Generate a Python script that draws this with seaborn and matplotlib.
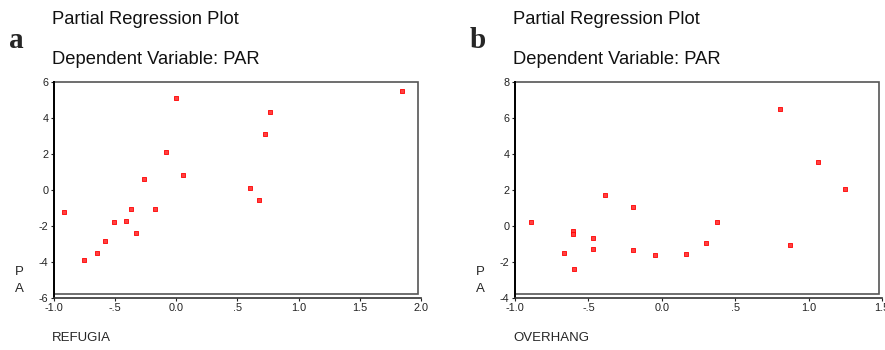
import matplotlib
matplotlib.use("Agg")
import matplotlib.pyplot as plt
from matplotlib.patches import Rectangle
import seaborn as sns
import pandas as pd

# panel a: REFUGIA
refugia_x = [-0.919, -0.753, -0.649, -0.581, -0.510, -0.412, -0.371, -0.327, -0.267,
             -0.175, -0.085, -0.005, 0.052, 0.603, 0.676, 0.728, 0.766, 1.843]
refugia_y = [-1.24, -3.93, -3.52, -2.85, -1.81, -1.76, -1.06, -2.39, 0.59,
             -1.06, 2.11, 5.06, 0.83, 0.06, -0.56, 3.06, 4.30, 5.46]

# panel b: OVERHANG
overhang_x = [-0.889, -0.666, -0.602, -0.602, -0.595, -0.468, -0.468, -0.389, -0.193,
              -0.193, -0.043, 0.164, 0.302, 0.377, 0.805, 0.875, 1.066, 1.248]
overhang_y = [0.22, -1.55, -0.33, -0.46, -2.39, -0.70, -1.33, 1.68, 1.01,
              -1.36, -1.64, -1.57, -0.96, 0.22, 6.48, -1.07, 3.55, 2.03]

xticks_a = [-1.0, -0.5, 0.0, 0.5, 1.0, 1.5, 2.0]
xlabels_a = ["-1.0", "-.5", "0.0", ".5", "1.0", "1.5", "2.0"]
yticks_a = [-6, -4, -2, 0, 2, 4, 6]

xticks_b = [-1.0, -0.5, 0.0, 0.5, 1.0, 1.5]
xlabels_b = ["-1.0", "-.5", "0.0", ".5", "1.0", "1.5"]
yticks_b = [-4, -2, 0, 2, 4, 6, 8]

sns.set_style("white")
plt.rcParams['font.family'] = ['Liberation Sans', 'DejaVu Sans']

fig = plt.figure(figsize=(8.85, 3.5), dpi=100)

panels = [
    dict(left=54, x=refugia_x, y=refugia_y, xt=xticks_a, xl=xlabels_a, yt=yticks_a,
         xlim=(-1.0, 2.0), ylim=(-6, 6), name="REFUGIA", letter="a"),
    dict(left=515, x=overhang_x, y=overhang_y, xt=xticks_b, xl=xlabels_b, yt=yticks_b,
         xlim=(-1.0, 1.5), ylim=(-4, 8), name="OVERHANG", letter="b"),
]

for p in panels:
    ax = fig.add_axes([p["left"] / 885, (350 - 297.5) / 350, 367 / 885, 216 / 350])
    df = pd.DataFrame({"x": p["x"], "y": p["y"]})
    sns.scatterplot(data=df, x="x", y="y", marker="s", s=5, color="#ff4040",
                    edgecolor="red", linewidth=0.6, ax=ax)
    ax.set_xlim(*p["xlim"])
    ax.set_ylim(*p["ylim"])
    ax.set_xticks(p["xt"])
    ax.set_xticklabels(p["xl"])
    ax.set_yticks(p["yt"])
    ax.set_yticklabels([str(v) for v in p["yt"]])
    ax.tick_params(axis="both", labelsize=7.8, length=2.5, width=0.8, direction="out",
                   colors="#222222", pad=1.5)
    ax.tick_params(left=True, bottom=True)
    ax.set_xlabel("")
    ax.set_ylabel("")
    ax.spines["top"].set_visible(False)
    ax.spines["right"].set_visible(False)
    ax.spines["left"].set_color("black")
    ax.spines["left"].set_linewidth(1.4)
    ax.spines["bottom"].set_color("#333333")
    ax.spines["bottom"].set_linewidth(1.2)
    # inner frame like the original plot box
    ax.add_patch(Rectangle((0, 0.016), 0.992, 0.984, transform=ax.transAxes,
                           fill=False, edgecolor="#555555", linewidth=1.2, clip_on=False))

    x0 = p["left"] / 885
    fig.text(x0 - 0.002, 1 - 20 / 350, "Partial Regression Plot", fontsize=13.2,
             va="center", ha="left", color="#111111")
    fig.text(x0 - 0.002, 1 - 60 / 350, "Dependent Variable: PAR", fontsize=13.2,
             va="center", ha="left", color="#111111")
    fig.text(x0 - 45 / 885, 1 - 41 / 350, p["letter"], fontsize=21, fontweight="bold",
             family="Liberation Serif", va="center", ha="left")
    fig.text(x0 - 39 / 885, 1 - 272 / 350, "P", fontsize=9.5, va="center", ha="left")
    fig.text(x0 - 39 / 885, 1 - 289 / 350, "A", fontsize=9.5, va="center", ha="left")
    fig.text(x0 - 0.002, 1 - 338 / 350, p["name"], fontsize=9.5, va="center", ha="left")

fig.savefig("out.png", dpi=100)
